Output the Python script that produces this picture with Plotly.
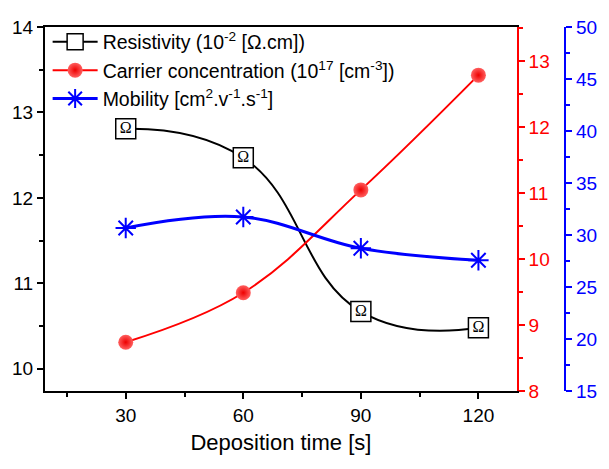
import plotly.graph_objects as go

time_s = [30, 60, 90, 120]
resistivity = [12.81, 12.47, 10.67, 10.48]
carrier = [8.74, 9.49, 11.05, 12.79]
mobility = [30.67, 31.73, 28.73, 27.57]
omega_labels = ["Ω", "Ω", "Ω", "Ω"]

x_ticks = [30, 60, 90, 120]

W, H = 609, 469
ML, MR, MT, MB = 45, 30, 27, 78
plot_w = W - ML - MR
dom_right = 479 / plot_w
blue_pos = (573 - ML) / plot_w

FONT = "Liberation Sans, Arial, sans-serif"

fig = go.Figure()

fig.add_trace(go.Scatter(
    x=time_s, y=resistivity, mode="lines+markers",
    name="Resistivity (10<sup>-2</sup> [Ω.cm])",
    line=dict(color="black", width=2, shape="spline", smoothing=1.3),
    marker=dict(symbol="square", size=20, color="white",
                line=dict(color="black", width=1.5)),
    yaxis="y",
))
fig.add_trace(go.Scatter(
    x=time_s, y=resistivity, mode="text", text=omega_labels,
    textfont=dict(family="Liberation Serif, Times New Roman, serif", size=16, color="black"),
    showlegend=False, hoverinfo="skip", yaxis="y",
))
fig.add_trace(go.Scatter(
    x=time_s, y=carrier, mode="lines+markers",
    name="Carrier concentration (10<sup>17</sup> [cm<sup>-3</sup>])",
    line=dict(color="red", width=2, shape="spline", smoothing=1.1),
    marker=dict(symbol="circle", size=15, color="#ff6060",
                gradient=dict(type="radial", color="#ee0000"),
                line=dict(width=0)),
    yaxis="y2",
))
fig.add_trace(go.Scatter(
    x=time_s, y=mobility, mode="lines+markers",
    name="Mobility [cm<sup>2</sup>.v<sup>-1</sup>.s<sup>-1</sup>]",
    line=dict(color="blue", width=3, shape="spline", smoothing=1.1),
    marker=dict(symbol="asterisk-open", size=17, color="blue",
                line=dict(color="blue", width=2)),
    yaxis="y3",
))

tick_font = dict(family=FONT, size=19)

fig.update_layout(
    width=W, height=H,
    margin=dict(l=ML, r=MR, t=MT, b=MB, pad=0),
    paper_bgcolor="white", plot_bgcolor="white",
    font=dict(family=FONT, size=19, color="black"),
    showlegend=True,
    legend=dict(x=0.005, y=1.012, xanchor="left", yanchor="top",
                bgcolor="rgba(0,0,0,0)", font=dict(family=FONT, size=19.5),
                itemwidth=45, tracegroupgap=0),
    xaxis=dict(
        domain=[0, dom_right], range=[9.4, 129.8],
        tickmode="array", tickvals=x_ticks,
        ticks="outside", ticklen=6, tickwidth=2, tickcolor="black",
        minor=dict(dtick=15, tick0=0, ticks="outside", ticklen=4, tickwidth=2, tickcolor="black"),
        showline=True, linecolor="black", linewidth=2, mirror=True,
        showgrid=False, zeroline=False, tickfont=tick_font,
        title=dict(text="Deposition time [s]", font=dict(family=FONT, size=22), standoff=10),
    ),
    yaxis=dict(
        range=[9.74, 14], dtick=1, tick0=0,
        ticks="outside", ticklen=6, tickwidth=2, tickcolor="black",
        minor=dict(dtick=0.5, tick0=0, ticks="outside", ticklen=4, tickwidth=2, tickcolor="black"),
        showline=True, linecolor="black", linewidth=2,
        showgrid=False, zeroline=False, tickfont=tick_font,
    ),
    yaxis2=dict(
        range=[8, 13.52], dtick=1, tick0=0, overlaying="y", side="right", anchor="x",
        ticks="outside", ticklen=6, tickwidth=2, tickcolor="red",
        minor=dict(dtick=0.5, tick0=0, ticks="outside", ticklen=4, tickwidth=2, tickcolor="red"),
        showline=True, linecolor="red", linewidth=2,
        showgrid=False, zeroline=False, tickfont=dict(family=FONT, size=19, color="red"),
    ),
    yaxis3=dict(
        range=[15, 50], dtick=5, tick0=0, overlaying="y", side="right",
        anchor="free", position=blue_pos,
        ticks="outside", ticklen=6, tickwidth=2, tickcolor="blue",
        minor=dict(dtick=2.5, tick0=0, ticks="outside", ticklen=4, tickwidth=2, tickcolor="blue"),
        showline=True, linecolor="blue", linewidth=2,
        showgrid=False, zeroline=False, tickfont=dict(family=FONT, size=19, color="blue"),
    ),
)

fig.write_html("out.html")
